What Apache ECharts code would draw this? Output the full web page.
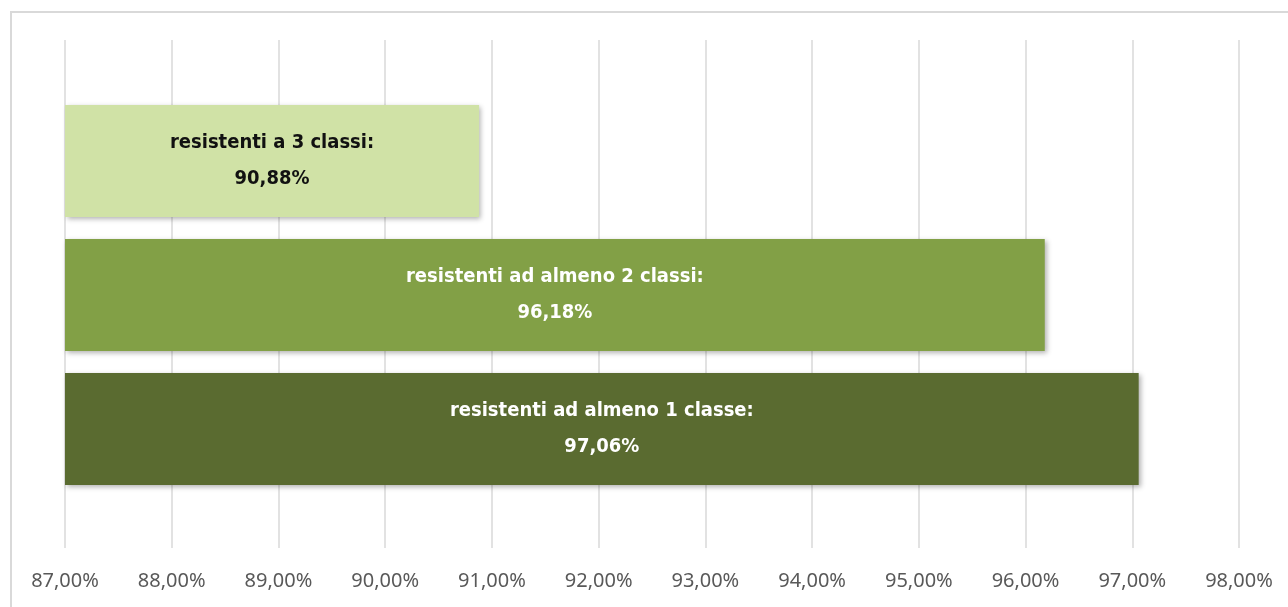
<!DOCTYPE html>
<html>
<head>
<meta charset="utf-8">
<script src="https://cdn.jsdelivr.net/npm/echarts@6/dist/echarts.min.js"></script>
<style>
  html, body { margin: 0; padding: 0; background: #fff; }
  #main { width: 1288px; height: 607px; }
</style>
</head>
<body>
<div id="main"></div>
<script>
let categories = ['resistenti a 3 classi:', 'resistenti ad almeno 2 classi:', 'resistenti ad almeno 1 classe:'];
let values = [90.88, 96.18, 97.06];
let barColors = ['#D0E2A6', '#82A046', '#5A6B30'];
let labelColors = ['#111111', '#ffffff', '#ffffff'];

function pct(v) {
    return v.toFixed(2).replace('.', ',') + '%';
}

let chartDom = document.getElementById('main');
let myChart = echarts.init(chartDom);

let data = values.map(function (v, i) {
    return {
        value: v,
        itemStyle: { color: barColors[i] },
        label: { color: labelColors[i] }
    };
});

let option = {
    animation: false,
    graphic: [{
        type: 'rect',
        shape: { x: 11, y: 12, width: 1400, height: 700 },
        style: { fill: 'none', stroke: '#d9d9d9', lineWidth: 2 },
        silent: true
    }],
    grid: [
        { left: 65, width: 1174, top: 40, height: 508 },
        { left: 65, width: 1174, top: 94, height: 402 }
    ],
    xAxis: [
        {
            gridIndex: 0,
            type: 'value',
            min: 87,
            max: 98,
            interval: 1,
            axisLine: { show: false },
            axisTick: { show: false },
            splitLine: { lineStyle: { color: '#d9d9d9', width: 1.5 } },
            axisLabel: {
                formatter: pct,
                color: '#595959',
                fontSize: 20,
                fontFamily: 'Noto Sans',
                margin: 23
            }
        },
        {
            gridIndex: 1,
            type: 'value',
            min: 87,
            max: 98,
            show: false
        }
    ],
    yAxis: [
        { gridIndex: 0, type: 'category', data: [''], show: false },
        {
            gridIndex: 1,
            type: 'category',
            data: categories,
            inverse: true,
            show: false
        }
    ],
    series: [
        {
            type: 'bar',
            xAxisIndex: 1,
            yAxisIndex: 1,
            data: data,
            barWidth: 112,
            itemStyle: {
                shadowColor: 'rgba(0,0,0,0.3)',
                shadowBlur: 5,
                shadowOffsetX: 2,
                shadowOffsetY: 2
            },
            label: {
                show: true,
                position: 'inside',
                fontFamily: 'DejaVu Sans Condensed',
                fontWeight: 'bold',
                fontSize: 20,
                lineHeight: 36,
                formatter: function (p) {
                    return p.name + '\n' + pct(p.value);
                }
            }
        }
    ]
};

myChart.setOption(option);
</script>
</body>
</html>
